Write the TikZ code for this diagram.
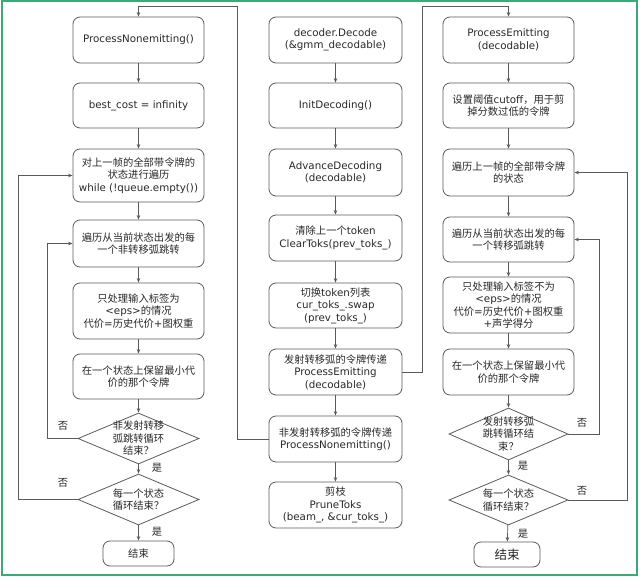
\documentclass[tikz,border=0pt]{standalone}
\usepackage{fontspec}
\setmainfont{DejaVu Sans}
\newfontfamily\cjk{Noto Sans CJK SC}
\newcommand\zh[1]{{\cjk #1}}
\usetikzlibrary{shapes.geometric,arrows.meta}
\definecolor{frame}{RGB}{60,170,120}
\definecolor{ln}{RGB}{90,90,90}
\definecolor{txt}{RGB}{40,40,40}
\begin{document}
\begin{tikzpicture}[x=1pt,y=-1pt,
  box/.style={draw=ln, line width=0.8pt, rounded corners=7pt, align=center, inner sep=0pt, text=txt, font=\fontsize{10.3}{12.5}\selectfont},
  dia/.style={draw=ln, line width=0.8pt, diamond, inner sep=0pt},
  dtext/.style={align=center, inner sep=0pt, text=txt, font=\fontsize{10.3}{12.5}\selectfont\cjk},
  arr/.style={draw=ln, line width=0.7pt, -{Stealth[length=4.5pt,width=3.5pt]}},
  ln/.style={draw=ln, line width=0.7pt},
  lab/.style={text=txt, font=\fontsize{10.3}{12}\selectfont\cjk, inner sep=0pt}]
\useasboundingbox (0,0) rectangle (640,578);
\draw[frame, line width=2pt] (2,1.5) rectangle (636.5,575);

% left column
\node[box, minimum width=131pt, minimum height=46pt] (L1) at (138.5,40) {ProcessNonemitting()};
\node[box, minimum width=131pt, minimum height=45pt] (L2) at (138.5,105.5) {best\_cost = infinity};
\node[box, minimum width=131pt, minimum height=53pt] (L3) at (138.5,175.5) {\zh{对上一帧的全部带令牌的}\\\zh{状态进行遍历}\\while (!queue.empty())};
\node[box, minimum width=131pt, minimum height=47pt] (L4) at (138.5,243.5) {\zh{遍历从当前状态出发的每}\\\zh{一个非转移弧跳转}};
\node[box, minimum width=131pt, minimum height=56pt] (L5) at (138.5,311) {\zh{只处理输入标签为}\\<eps>\zh{的情况}\\\zh{代价}=\zh{历史代价}+\zh{图权重}};
\node[box, minimum width=131pt, minimum height=45pt] (L6) at (138.5,376.5) {\zh{在一个状态上保留最小代}\\\zh{价的那个令牌}};
\node[dia, minimum width=121pt, minimum height=51pt] (Ld1) at (138.5,438.5) {};
\node[dtext] (Ld1t) at (Ld1.center) {非发射转移\\弧跳转循环\\结束？};
\node[dia, minimum width=121pt, minimum height=51pt] (Ld2) at (138.5,499.5) {};
\node[dtext] (Ld2t) at (Ld2.center) {每一个状态\\循环结束？};
\node[box, minimum width=71pt, minimum height=25pt] (Lend) at (138.5,553.5) {\zh{结束}};

% middle column
\node[box, minimum width=133pt, minimum height=46pt] (M1) at (335.5,40) {decoder.Decode\\(\&gmm\_decodable)};
\node[box, minimum width=133pt, minimum height=45pt] (M2) at (335.5,105.5) {InitDecoding()};
\node[box, minimum width=133pt, minimum height=47pt] (M3) at (335.5,172.5) {AdvanceDecoding\\(decodable)};
\node[box, minimum width=133pt, minimum height=46pt] (M4) at (335.5,238) {\zh{清除上一个}token\\ClearToks(prev\_toks\_)};
\node[box, minimum width=133pt, minimum height=45pt] (M5) at (335.5,305.5) {\zh{切换}token\zh{列表}\\cur\_toks\_.swap\\(prev\_toks\_)};
\node[box, minimum width=133pt, minimum height=46pt] (M6) at (335.5,372) {\zh{发射转移弧的令牌传递}\\ProcessEmitting\\(decodable)};
\node[box, minimum width=133pt, minimum height=46pt] (M7) at (335.5,439) {\zh{非发射转移弧的令牌传递}\\ProcessNonemitting()};
\node[box, minimum width=133pt, minimum height=46pt] (M8) at (335.5,505) {\zh{剪枝}\\PruneToks\\(beam\_, \&cur\_toks\_)};

% right column
\node[box, minimum width=131pt, minimum height=46pt] (R1) at (508.5,40) {ProcessEmitting\\(decodable)};
\node[box, minimum width=131pt, minimum height=45pt] (R2) at (508.5,105.5) {\zh{设置阈值}cutoff\zh{，用于剪}\\\zh{掉分数过低的令牌}};
\node[box, minimum width=131pt, minimum height=47pt] (R3) at (508.5,172.5) {\zh{遍历上一帧的全部带令牌}\\\zh{的状态}};
\node[box, minimum width=131pt, minimum height=45pt] (R4) at (508.5,239.5) {\zh{遍历从当前状态出发的每}\\\zh{一个转移弧跳转}};
\node[box, minimum width=131pt, minimum height=56pt] (R5) at (508.5,305) {\zh{只处理输入标签不为}\\<eps>\zh{的情况}\\\zh{代价}=\zh{历史代价}+\zh{图权重}\\+\zh{声学得分}};
\node[box, minimum width=131pt, minimum height=46pt] (R6) at (508.5,372) {\zh{在一个状态上保留最小代}\\\zh{价的那个令牌}};
\node[dia, minimum width=119pt, minimum height=52pt] (Rd1) at (508.5,434) {};
\node[dtext] (Rd1t) at (Rd1.center) {发射转移弧\\跳转循环结\\束？};
\node[dia, minimum width=119pt, minimum height=50pt] (Rd2) at (508.5,500) {};
\node[dtext] (Rd2t) at (Rd2.center) {每一个状态\\循环结束？};
\node[box, minimum width=66pt, minimum height=25pt, font=\fontsize{12.5}{14}\selectfont] (Rend) at (507,554.5) {\zh{结束}};

% vertical flow
\foreach \a/\b in {L1/L2,L2/L3,L3/L4,L4/L5,L5/L6,L6/Ld1,Ld1/Ld2,Ld2/Lend,
                   M1/M2,M2/M3,M3/M4,M4/M5,M5/M6,M6/M7,M7/M8,
                   R1/R2,R2/R3,R3/R4,R4/R5,R5/R6,R6/Rd1,Rd1/Rd2,Rd2/Rend}
  \draw[arr] (\a) -- (\b);

% loops
\draw[arr] (Ld1.west) -- ++(-30,0) |- (L4.west);
\draw[arr] (Ld2.west) -- ++(-59,0) |- (L3.west);
\draw[arr] (Rd1.east) -- ++(31,0) |- (R4.east);
\draw[arr] (Rd2.east) -- ++(59,0) |- (R3.east);

% cross connectors
\coordinate (topL) at (237,6);
\coordinate (topR) at (422,6);
\draw[arr] (M7.west) -| (topL) -| (L1.north);
\draw[arr] (M6.east) -| (topR) -| (R1.north);

% labels
\node[lab] (n1) at (63,426) {否};
\node[lab] (n2) at (63,483) {否};
\node[lab] (y1) at (157,468) {是};
\node[lab] (y2) at (157,532) {是};
\node[lab] (n3) at (582,423) {否};
\node[lab] (n4) at (582,491) {否};
\node[lab] (y3) at (523,466) {是};
\node[lab] (y4) at (523,534) {是};
\end{tikzpicture}
\end{document}
